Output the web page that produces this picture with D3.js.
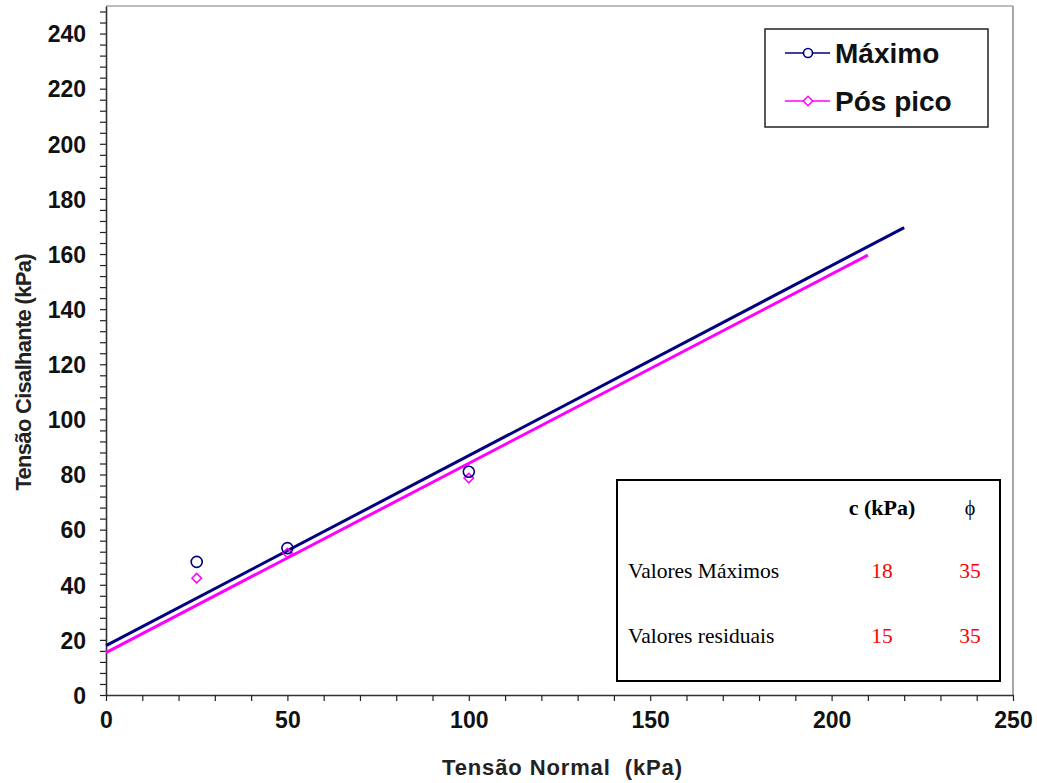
<!DOCTYPE html>
<meta charset="utf-8">
<style>
  body { margin: 0; background: #fff; }
  svg { display: block; }
</style>
<svg width="1037" height="783"></svg>
<script src="https://cdn.jsdelivr.net/npm/d3@7"></script>
<script>

// measured points
var maxX = [25, 50, 100]
var maxY = [48.3, 53.3, 81]
var posX = [25, 50, 100]
var posY = [42.4, 51.5, 78.7]

// envelope lines (start / end)
var maxLineX = [0, 220]
var maxLineY = [17.9, 169.6]
var posLineX = [0, 210]
var posLineY = [15.4, 159.6]

var legendLabels = ['Máximo', 'Pós pico']
var tableHead = ['c (kPa)', 'ϕ']
var tableRows = ['Valores Máximos', 'Valores residuais']
var tableC = [18, 15]
var tablePhi = [35, 35]

var plotL = 106, plotR = 1013, plotT = 6, plotB = 695

var svg = d3.select('svg')

var x = d3.scaleLinear().domain([0, 250]).range([plotL, plotR])
var y = d3.scaleLinear().domain([0, 250]).range([plotB, plotT])

// frame: top and right in grey
svg.append('line')
  .attr('x1', plotL).attr('x2', plotR).attr('y1', plotT).attr('y2', plotT)
  .attr('stroke', '#a6a6a6').attr('stroke-width', 1.5)
svg.append('line')
  .attr('x1', plotR).attr('x2', plotR).attr('y1', plotT).attr('y2', plotB)
  .attr('stroke', '#a6a6a6').attr('stroke-width', 2)

var xAxis = svg.append('g')
  .attr('transform', 'translate(0,' + plotB + ')')
  .call(d3.axisBottom(x)
    .tickValues(d3.range(0, 251, 10))
    .tickSize(6)
    .tickSizeOuter(0)
    .tickFormat(function (d) { return d % 50 === 0 ? d : '' }))

var yAxis = svg.append('g')
  .attr('transform', 'translate(' + plotL + ',0)')
  .call(d3.axisLeft(y)
    .tickValues(d3.range(0, 249, 4))
    .tickSize(6)
    .tickSizeOuter(0)
    .tickFormat(function (d) { return d % 20 === 0 ? d : '' }))

svg.selectAll('.domain').attr('stroke', '#333').attr('stroke-width', 1.6)
svg.selectAll('.tick line').attr('stroke', '#222').attr('stroke-width', 1.2)
svg.selectAll('.tick text')
  .attr('font-family', 'Arial, "Liberation Sans", sans-serif')
  .attr('font-weight', 'bold')
  .attr('font-size', 23)
  .attr('fill', '#111')
xAxis.selectAll('.tick text').attr('y', 17).attr('dy', '0.71em')
yAxis.selectAll('.tick text').attr('x', -20).attr('dy', '0.36em')

// axis titles
svg.append('text')
  .attr('x', 562).attr('y', 775)
  .attr('text-anchor', 'middle')
  .attr('font-family', 'Arial, "Liberation Sans", sans-serif')
  .attr('font-weight', 'bold').attr('font-size', 22)
  .attr('fill', '#222')
  .attr('textLength', 240)
  .style('white-space', 'pre')
  .text('Tensão Normal  (kPa)')

svg.append('text')
  .attr('transform', 'translate(31,372) rotate(-90)')
  .attr('text-anchor', 'middle')
  .attr('font-family', 'Arial, "Liberation Sans", sans-serif')
  .attr('font-weight', 'bold').attr('font-size', 22)
  .attr('fill', '#222')
  .attr('textLength', 237)
  .text('Tensão Cisalhante (kPa)')

// envelope lines
function pairs(xs, ys) { return xs.map(function (v, i) { return [v, ys[i]] }) }
var line = d3.line().x(function (d) { return x(d[0]) }).y(function (d) { return y(d[1]) })

svg.append('path').datum(pairs(maxLineX, maxLineY))
  .attr('d', line).attr('fill', 'none')
  .attr('stroke', '#000080').attr('stroke-width', 3)
svg.append('path').datum(pairs(posLineX, posLineY))
  .attr('d', line).attr('fill', 'none')
  .attr('stroke', '#ff00ff').attr('stroke-width', 3)

// points
var diamond = d3.symbol().type(d3.symbolSquare).size(45)
svg.append('g').selectAll('path')
  .data(pairs(posX, posY)).enter().append('path')
  .attr('d', diamond)
  .attr('transform', function (d) { return 'translate(' + x(d[0]) + ',' + y(d[1]) + ') rotate(45)' })
  .attr('fill', 'none').attr('stroke', '#ff00ff').attr('stroke-width', 1.5)

svg.append('g').selectAll('circle')
  .data(pairs(maxX, maxY)).enter().append('circle')
  .attr('cx', function (d) { return x(d[0]) })
  .attr('cy', function (d) { return y(d[1]) })
  .attr('r', 5.5)
  .attr('fill', 'none').attr('stroke', '#000080').attr('stroke-width', 1.6)

// legend
var legend = svg.append('g')
legend.append('rect')
  .attr('x', 765).attr('y', 29).attr('width', 223).attr('height', 98)
  .attr('fill', '#fff').attr('stroke', '#222').attr('stroke-width', 1.5)

var legColors = ['#000080', '#ff00ff']
legendLabels.forEach(function (lab, i) {
  var ly = 53 + i * 48
  legend.append('line')
    .attr('x1', 785).attr('x2', 830).attr('y1', ly).attr('y2', ly)
    .attr('stroke', legColors[i]).attr('stroke-width', 1.6)
  if (i === 0) {
    legend.append('circle').attr('cx', 808).attr('cy', ly).attr('r', 4.5)
      .attr('fill', '#fff').attr('stroke', legColors[i]).attr('stroke-width', 1.6)
  } else {
    legend.append('path').attr('d', diamond)
      .attr('transform', 'translate(808,' + ly + ') rotate(45)')
      .attr('fill', '#fff').attr('stroke', legColors[i]).attr('stroke-width', 1.5)
  }
  legend.append('text')
    .attr('x', 835).attr('y', ly + 10)
    .attr('font-family', 'Arial, "Liberation Sans", sans-serif')
    .attr('font-weight', 'bold').attr('font-size', 28)
    .attr('fill', '#111')
    .text(lab)
})

// parameter table
var table = svg.append('g')
table.append('rect')
  .attr('x', 617).attr('y', 480).attr('width', 383).attr('height', 201)
  .attr('fill', '#fff').attr('stroke', '#000').attr('stroke-width', 2)

var serif = 'Times New Roman, "Liberation Serif", serif'
var colC = 882, colPhi = 970
table.append('text').attr('x', colC).attr('y', 515)
  .attr('text-anchor', 'middle').attr('font-family', serif)
  .attr('font-weight', 'bold').attr('font-size', 22).text(tableHead[0])
table.append('text').attr('x', colPhi).attr('y', 515)
  .attr('text-anchor', 'middle').attr('font-family', serif)
  .attr('font-size', 20).text(tableHead[1])

tableRows.forEach(function (r, i) {
  var ty = 578 + i * 65
  table.append('text').attr('x', 628).attr('y', ty)
    .attr('font-family', serif).attr('font-size', 21.5).text(r)
  table.append('text').attr('x', colC).attr('y', ty)
    .attr('text-anchor', 'middle').attr('font-family', serif)
    .attr('font-size', 21.5).attr('fill', '#ff0000').text(tableC[i])
  table.append('text').attr('x', colPhi).attr('y', ty)
    .attr('text-anchor', 'middle').attr('font-family', serif)
    .attr('font-size', 21.5).attr('fill', '#ff0000').text(tablePhi[i])
})
</script>
